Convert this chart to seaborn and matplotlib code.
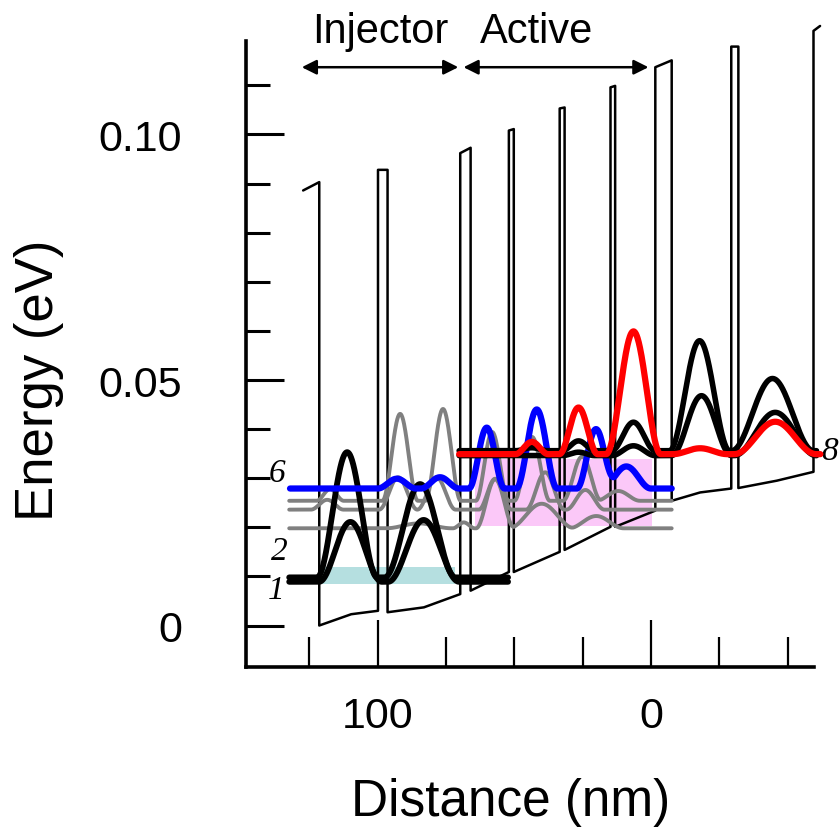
import numpy as np
import pandas as pd
import matplotlib
matplotlib.use("Agg")
import matplotlib.pyplot as plt
import seaborn as sns
from matplotlib.patches import Rectangle
from matplotlib.ticker import FixedLocator

# ---------------- data ----------------
# conduction-band profile (distance in nm, energy in eV)
band_x = [127.3, 121.4, 121.4, 109.7, 99.9, 99.9, 96.4, 96.4, 83.1, 69.8,
          69.8, 66.0, 66.0, 52.0, 52.0, 50.2, 50.2, 33.4, 33.4, 31.6,
          31.6, 14.8, 14.8, 13.1, 13.1, -1.6, -1.6, -7.6, -7.6, -18.0,
          -29.4, -29.4, -32.0, -32.0, -46.1, -59.5, -59.5, -61.9]
band_e = [0.0886, 0.0903, 0.0000, 0.0023, 0.0030, 0.0928, 0.0928, 0.0027, 0.0037, 0.0064,
          0.0962, 0.0973, 0.0071, 0.0109, 0.1008, 0.1011, 0.0109, 0.0150, 0.1053, 0.1055,
          0.0154, 0.0201, 0.1096, 0.1099, 0.0201, 0.0234, 0.1137, 0.1151, 0.0254, 0.0271,
          0.0279, 0.1179, 0.1179, 0.0280, 0.0295, 0.0313, 0.1211, 0.1221]

# wavefunctions: level energy, span (nm) and lobes (centre nm, height eV, half-width nm)
lvl1_e = 0.0089
lvl1_span = [132.4, 52.3]
lvl1_lobes = [(110.0, 0.0122, 11.5), (83.2, 0.0126, 13.0)]

lvl2_e = 0.0098
lvl2_span = [132.4, 52.3]
lvl2_lobes = [(111.2, 0.0255, 11.0), (84.5, 0.0190, 13.0)]

grayL_e = 0.0198
grayL_span = [132.4, -7.6]
grayL_lobes = [(85.0, 0.0010, 12.0), (68.5, 0.0012, 4.0), (57.0, 0.0100, 7.0),
               (40.0, 0.0050, 12.0), (20.0, 0.0025, 10.0)]

grayM_e = 0.0236
grayM_span = [132.4, -7.6]
grayM_lobes = [(118.5, 0.0020, 6.0), (92.5, 0.0066, 7.0), (78.5, 0.0066, 7.0),
               (57.0, 0.0063, 6.0), (38.7, 0.0076, 7.0), (24.0, 0.0040, 7.0)]

grayH_e = 0.0254
grayH_span = [132.4, -7.6]
grayH_lobes = [(117.4, 0.0024, 5.0), (91.8, 0.0177, 6.5), (76.1, 0.0187, 6.5),
               (58.1, 0.0140, 6.0), (43.5, 0.0130, 6.5), (25.2, 0.0090, 7.0),
               (12.0, 0.0020, 8.0)]

lvl6_e = 0.0279
lvl6_span = [132.1, -7.6]
lvl6_lobes = [(93.0, 0.0020, 7.0), (77.2, 0.0023, 7.0), (60.1, 0.0124, 6.5),
              (41.8, 0.0161, 7.5), (20.1, 0.0121, 7.0), (9.0, 0.0045, 9.0)]

blkM_e = 0.0346
blkM_span = [70.2, -60.6]
blkM_lobes = [(26.5, 0.0007, 6.0), (6.4, 0.0020, 8.0), (-18.5, 0.0122, 11.0),
              (-45.5, 0.0088, 15.0)]

blkT_e = 0.0356
blkT_span = [70.2, -60.6]
blkT_lobes = [(43.6, 0.0006, 6.0), (26.5, 0.0020, 6.0), (6.4, 0.0058, 8.0),
              (-17.8, 0.0224, 11.0), (-44.5, 0.0147, 15.0)]

lvl8_e = 0.0349
lvl8_span = [70.2, -62.0]
lvl8_lobes = [(43.6, 0.0025, 6.0), (26.5, 0.0095, 7.0), (6.4, 0.0250, 10.0),
              (-18.0, 0.0012, 10.0), (-45.5, 0.0066, 15.0)]

# shaded energy windows
inj_box_x = [121.1, 71.8]
inj_box_e = [0.00845, 0.01191]
act_box_x = [64.3, -0.3]
act_box_e = [0.0203, 0.0339]

# annotation text
region_names = ["Injector", "Active"]
region_centres = [99.1, 41.8]
region_arrows = [(127.8, 70.5), (68.6, 0.9)]
level_labels = ["6", "2", "1", "8"]
level_label_x = [137.0, 135.9, 137.2, -65.6]
level_label_e = [0.0311, 0.0153, 0.0072, 0.0356]

x_major = [100, 0]
x_major_labels = ["100", "0"]
x_minor = [125, 75, 50, 25, -25, -50]
y_major = [0.0, 0.05, 0.10]
y_major_labels = ["0", "0.05", "0.10"]
y_minor = [0.01, 0.02, 0.03, 0.04, 0.06, 0.07, 0.08, 0.09, 0.11]

# ---------------- style ----------------
sns.set_style("ticks")
plt.rcParams["font.family"] = ["Liberation Sans", "DejaVu Sans"]
plt.rcParams.update({"text.color": "black", "axes.labelcolor": "black",
                     "xtick.color": "black", "ytick.color": "black",
                     "axes.edgecolor": "black"})

fig = plt.figure(figsize=(8.4, 8.29), dpi=100)
ax = fig.add_axes([0.2929, 0.1942, 0.6762, 0.7555])


def wave(span, base, lobes):
    x = np.linspace(span[0], span[1], 900)
    y = np.full_like(x, base)
    for c, a, w in lobes:
        d = np.abs(x - c)
        y = y + np.where(d < w, a * np.cos(np.pi * d / (2 * w)) ** 2, 0.0)
    return pd.DataFrame({"x": x, "y": y})


# shaded windows
ax.add_patch(Rectangle((min(inj_box_x), inj_box_e[0]), abs(inj_box_x[0] - inj_box_x[1]),
                       inj_box_e[1] - inj_box_e[0], facecolor="#b5dfe0", edgecolor="none", zorder=1))
ax.add_patch(Rectangle((min(act_box_x), act_box_e[0]), abs(act_box_x[0] - act_box_x[1]),
                       act_box_e[1] - act_box_e[0], facecolor="#fbc8f8", edgecolor="none", zorder=1))

# band profile
band_df = pd.DataFrame({"x": band_x, "y": band_e})
sns.lineplot(data=band_df, x="x", y="y", sort=False, estimator=None, color="black",
             lw=1.8, ax=ax, zorder=2, clip_on=False)

curves = [
    (grayL_span, grayL_e, grayL_lobes, "#808080", 2.8),
    (grayM_span, grayM_e, grayM_lobes, "#808080", 2.8),
    (grayH_span, grayH_e, grayH_lobes, "#808080", 2.8),
    (lvl1_span, lvl1_e, lvl1_lobes, "black", 4.2),
    (lvl2_span, lvl2_e, lvl2_lobes, "black", 4.2),
    (lvl6_span, lvl6_e, lvl6_lobes, "#0000ff", 4.5),
    (blkM_span, blkM_e, blkM_lobes, "black", 4.0),
    (blkT_span, blkT_e, blkT_lobes, "black", 4.0),
    (lvl8_span, lvl8_e, lvl8_lobes, "#ff0000", 4.5),
]
for i, (span, base, lobes, col, lw) in enumerate(curves):
    sns.lineplot(data=wave(span, base, lobes), x="x", y="y", sort=False, estimator=None,
                 color=col, lw=lw, ax=ax, zorder=3 + i * 0.1, clip_on=False)

# axes
ax.set_xlim(148.2, -59.7)
ax.set_ylim(-0.00845, 0.1191)
for s in ["top", "right"]:
    ax.spines[s].set_visible(False)
for s in ["left", "bottom"]:
    ax.spines[s].set_linewidth(2.6)
    ax.spines[s].set_color("black")

ax.xaxis.set_major_locator(FixedLocator(x_major))
ax.set_xticklabels(x_major_labels)
ax.xaxis.set_minor_locator(FixedLocator(x_minor))
ax.yaxis.set_major_locator(FixedLocator(y_major))
ax.set_yticklabels(y_major_labels)
ax.yaxis.set_minor_locator(FixedLocator(y_minor))

ax.tick_params(axis="x", which="major", direction="in", length=34, width=1.6,
               labelsize=31, pad=21, color="black", labelcolor="black")
ax.tick_params(axis="x", which="minor", direction="in", length=21.5, width=1.6, color="black")
ax.tick_params(axis="y", which="major", direction="in", length=27, width=2.2,
               labelsize=31, pad=46, color="black", labelcolor="black")
ax.tick_params(axis="y", which="minor", direction="in", length=17, width=2.2, color="black")

ax.set_xlabel("Distance (nm)", fontsize=37, va="center", color="black")
ax.xaxis.set_label_coords(0.465, -0.215)
ax.set_ylabel("Energy (eV)", fontsize=38, va="center", color="black")
ax.yaxis.set_label_coords(-0.364, 0.46)

# region arrows and names
for name, xc, (xa, xb) in zip(region_names, region_centres, region_arrows):
    ax.annotate("", xy=(xb, 0.1137), xytext=(xa, 0.1137), annotation_clip=False,
                arrowprops=dict(arrowstyle="<|-|>", color="black", lw=1.8,
                                mutation_scale=22, shrinkA=0, shrinkB=0))
    ax.text(xc, 0.1189, name, ha="center", va="baseline", fontsize=30, color="black",
            clip_on=False)

for lab, lx, le in zip(level_labels, level_label_x, level_label_e):
    ax.text(lx, le, lab, ha="center", va="center", fontsize=24, style="italic",
            family=["Liberation Serif", "DejaVu Serif"], color="black", clip_on=False)

fig.savefig("out.png", dpi=100)
